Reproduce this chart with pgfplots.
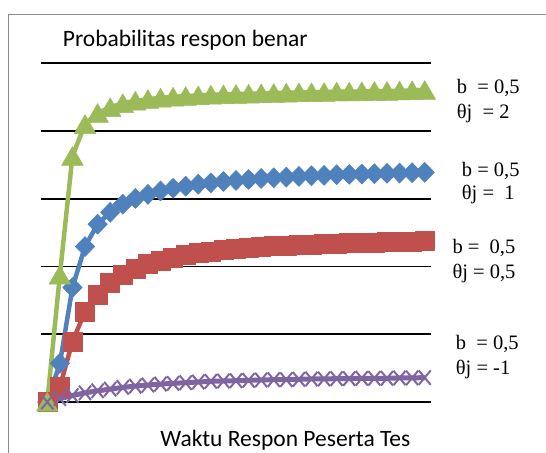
\documentclass[border=0pt]{standalone}
\usepackage{fontspec}
\setmainfont{Liberation Serif}
\newfontfamily\calibri{Carlito}
\usepackage{pgfplots}
\usepackage{pgfplotstable}
\pgfplotsset{compat=1.18}
\definecolor{cgreen}{HTML}{9BBB59}
\definecolor{cblue}{HTML}{4F81BD}
\definecolor{cred}{HTML}{C0504D}
\definecolor{cpurple}{HTML}{8064A2}
\definecolor{cframe}{HTML}{8C8C8C}
\pgfplotstableread{
i blue red green purple
0 0.000 0.000 0.000 0.000
1 0.114 0.045 0.375 0.010
2 0.338 0.178 0.726 0.019
3 0.459 0.267 0.820 0.027
4 0.525 0.316 0.853 0.033
5 0.560 0.352 0.870 0.038
6 0.584 0.376 0.882 0.043
7 0.601 0.394 0.889 0.047
8 0.613 0.407 0.894 0.050
9 0.623 0.418 0.898 0.053
10 0.631 0.427 0.901 0.055
11 0.637 0.434 0.903 0.057
12 0.643 0.440 0.905 0.059
13 0.647 0.445 0.907 0.061
14 0.651 0.449 0.908 0.062
15 0.654 0.452 0.909 0.063
16 0.657 0.455 0.910 0.064
17 0.660 0.458 0.911 0.065
18 0.662 0.460 0.912 0.066
19 0.664 0.462 0.913 0.066
20 0.666 0.464 0.914 0.067
21 0.668 0.465 0.914 0.068
22 0.669 0.467 0.915 0.068
23 0.671 0.468 0.916 0.069
24 0.672 0.469 0.916 0.069
25 0.673 0.470 0.917 0.070
26 0.674 0.471 0.918 0.070
27 0.675 0.472 0.918 0.070
28 0.676 0.473 0.919 0.071
29 0.677 0.474 0.920 0.071
30 0.678 0.475 0.921 0.072
}\datatable
\begin{document}
\begin{tikzpicture}[x=1bp,y=1bp]
\useasboundingbox (0,0) rectangle (546,453);
\draw[cframe, line width=1.5bp] (8.7,-5) -- (8.7,438.4) -- (560,438.4);
\begin{axis}[at={(41bp,51bp)}, anchor=south west, scale only axis,
  width=390bp, height=338.7bp,
  xmin=-0.5, xmax=30.5, ymin=0, ymax=1,
  axis line style={draw=none},
  ytick={0,0.2,0.4,0.6,0.8,1}, xtick=\empty, yticklabels={},
  ymajorgrids, grid style={black, line width=1.6bp},
  major tick length=0pt, tick style={draw=none}, clip=false]
\addplot[cblue, line width=4.5bp, line join=round, mark=diamond*, mark size=10bp,
  mark options={xscale=1.3, line width=0.5bp, fill=cblue}] table[x=i,y=blue]{\datatable};
\addplot[cred, line width=4.5bp, line join=round, mark=square*, mark size=9.5bp,
  mark options={line width=0.5bp, fill=cred}] table[x=i,y=red]{\datatable};
\addplot[cgreen, line width=4.5bp, line join=round, mark=triangle*, mark size=12.5bp,
  mark options={line width=0.5bp, fill=cgreen, yshift=-3bp}] table[x=i,y=green]{\datatable};
\addplot[cpurple, line width=5bp, line join=round, mark=x, mark size=8.5bp,
  mark options={line width=2bp, yscale=1.2}] table[x=i,y=purple]{\datatable};
\end{axis}
\node[anchor=base west, inner sep=0pt, font=\calibri\fontsize{23.5bp}{28bp}\selectfont] at (62.7,406.3) {Probabilitas respon benar};
\node[anchor=base west, inner sep=0pt, font=\calibri\fontsize{23.5bp}{28bp}\selectfont] at (160.2,6.3) {Waktu Respon Peserta Tes};
\begin{scope}[every node/.style={anchor=base west, inner sep=0pt, font=\fontsize{20.5bp}{24bp}\selectfont}]
\node at (456.7,359.7) {b\ \ = 0,5};
\node at (456.7,334.7) {θj\ \ = 2};
\node at (461.7,276.3) {b = 0,5};
\node at (461.7,253.0) {θj = \ 1};
\node at (452.3,199.7) {b = \ 0,5};
\node at (452.3,174.7) {θj = 0,5};
\node at (455.7,103.0) {b\ \ = 0,5};
\node at (455.7,78.0) {θj = -1};
\end{scope}
\end{tikzpicture}
\end{document}
